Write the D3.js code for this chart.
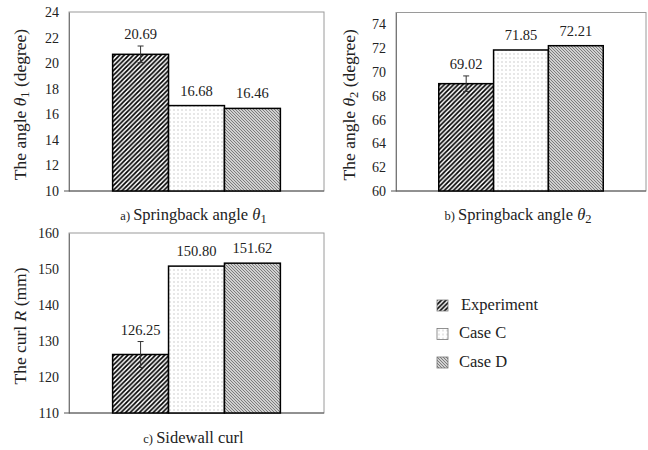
<!DOCTYPE html>
<html>
<head>
<meta charset="utf-8">
<script src="https://cdn.jsdelivr.net/npm/d3@7/dist/d3.min.js"></script>
<style>
  html, body { margin: 0; padding: 0; background: #fff; }
  svg { display: block; }
  svg text { font-family: "Liberation Serif", "DejaVu Serif", serif; }
</style>
</head>
<body>
<svg id="chart" width="648" height="450"></svg>
<script>
// Series shown in every panel
const series = ["Experiment", "Case C", "Case D"];

// a) Springback angle θ1 (degree)
const theta1Values = [20.69, 16.68, 16.46];
const theta1Errors = [0.65, null, null];
const theta1Ticks = [10, 12, 14, 16, 18, 20, 22, 24];

// b) Springback angle θ2 (degree)
const theta2Values = [69.02, 71.85, 72.21];
const theta2Errors = [0.65, null, null];
const theta2Ticks = [60, 62, 64, 66, 68, 70, 72, 74];

// c) Sidewall curl R (mm)
const curlValues = [126.25, 150.80, 151.62];
const curlErrors = [3.6, null, null];
const curlTicks = [110, 120, 130, 140, 150, 160];

const SERIF = "Liberation Serif, DejaVu Serif, serif";

const svg = d3.select("#chart").attr("font-family", SERIF);
const defs = svg.append("defs");

// Fill patterns for the three series
const pExp = defs.append("pattern").attr("id", "pat-exp")
  .attr("patternUnits", "userSpaceOnUse").attr("width", 4.6).attr("height", 4.6);
pExp.append("rect").attr("width", 4.6).attr("height", 4.6).attr("fill", "#fff");
pExp.append("path").attr("d", "M-1.15,1.15 L1.15,-1.15 M0,4.6 L4.6,0 M3.45,5.75 L5.75,3.45")
  .attr("stroke", "#000").attr("stroke-width", 1.7);

const pC = defs.append("pattern").attr("id", "pat-c")
  .attr("patternUnits", "userSpaceOnUse").attr("width", 4).attr("height", 4);
pC.append("rect").attr("width", 4).attr("height", 4).attr("fill", "#fff");
pC.append("rect").attr("x", 1.5).attr("y", 1.5).attr("width", 1).attr("height", 1).attr("fill", "#a0a0a0");

const pD = defs.append("pattern").attr("id", "pat-d")
  .attr("patternUnits", "userSpaceOnUse").attr("width", 3).attr("height", 3);
pD.append("rect").attr("width", 3).attr("height", 3).attr("fill", "#d0d0d0");
pD.append("path").attr("d", "M-0.75,2.25 L0.75,3.75 M0,0 L3,3 M2.25,-0.75 L3.75,0.75")
  .attr("stroke", "#737373").attr("stroke-width", 0.9);

const fills = d3.scaleOrdinal().domain(series).range(["url(#pat-exp)", "url(#pat-c)", "url(#pat-d)"]);

function drawPanel(opt) {
  const { x0, x1, y0, y1, domain, ticks, values, errors, yTitle, caption, capY, titleX } = opt;
  const g = svg.append("g");

  const y = d3.scaleLinear().domain(domain).range([y1, y0]);
  const outer = d3.scaleBand().domain(["g"]).range([x0, x1]).paddingOuter(0.26).paddingInner(0);
  const x = d3.scaleBand().domain(series).range([outer("g"), outer("g") + outer.bandwidth()]);

  // frame
  g.append("rect").attr("x", x0).attr("y", y0).attr("width", x1 - x0).attr("height", y1 - y0)
    .attr("fill", "none").attr("stroke", "#9a9a9a").attr("stroke-width", 1);

  // y axis
  const yAxis = d3.axisLeft(y).tickValues(ticks).tickSize(0).tickPadding(10).tickFormat(d3.format("d"));
  const ya = g.append("g").attr("transform", `translate(${x0},0)`).call(yAxis)
    .attr("font-family", SERIF).attr("font-size", 14);
  ya.select(".domain").attr("stroke", "#777");
  ya.selectAll("text").attr("fill", "#222");

  // x axis baseline
  const xa = g.append("g").attr("transform", `translate(0,${y1})`)
    .call(d3.axisBottom(x).tickSize(0).tickFormat(""));
  xa.select(".domain").attr("stroke", "#555").attr("d", `M${x0 - 5},0H${x1}`);

  const rows = series.map((s, i) => ({ s, v: values[i], e: errors[i] }));

  // bars
  g.selectAll("rect.bar").data(rows).join("rect").attr("class", "bar")
    .attr("x", d => x(d.s)).attr("width", x.bandwidth())
    .attr("y", d => y(d.v)).attr("height", d => y(domain[0]) - y(d.v))
    .attr("fill", d => fills(d.s)).attr("stroke", "#000").attr("stroke-width", 1.5);

  // error bars
  const eb = rows.filter(d => d.e != null);
  const cx = d => x(d.s) + x.bandwidth() / 2;
  g.selectAll("path.err").data(eb).join("path").attr("class", "err")
    .attr("d", d => `M${cx(d) - 3},${y(d.v + d.e)}H${cx(d) + 3}M${cx(d)},${y(d.v + d.e)}V${y(d.v - d.e)}M${cx(d) - 3},${y(d.v - d.e)}H${cx(d) + 3}`)
    .attr("stroke", "#333").attr("stroke-width", 1).attr("fill", "none");

  // value labels
  g.selectAll("text.val").data(rows).join("text").attr("class", "val")
    .attr("x", cx)
    .attr("y", d => (d.e != null ? y(d.v + d.e) - 7 : y(d.v) - 10))
    .attr("text-anchor", "middle").attr("font-size", 14.5).attr("fill", "#222")
    .text(d => d.v.toFixed(2));

  // y title
  const ty = g.append("text")
    .attr("transform", `translate(${titleX},${(y0 + y1) / 2 + 3}) rotate(-90)`)
    .attr("text-anchor", "middle").attr("font-size", 17.5).attr("fill", "#222");
  yTitle.forEach(part => {
    const t = ty.append("tspan").text(part.t);
    if (part.i) t.attr("font-style", "italic");
    if (part.sub) t.attr("font-size", 12.5).attr("baseline-shift", "-25%");
  });

  // caption
  const cap = g.append("text").attr("x", (x0 + x1) / 2 - 3).attr("y", capY)
    .attr("text-anchor", "middle").attr("font-size", 16.5).attr("fill", "#222");
  caption.forEach(part => {
    const t = cap.append("tspan").text(part.t);
    if (part.small) t.attr("font-size", 12.5);
    if (part.i) t.attr("font-style", "italic");
    if (part.sub) t.attr("font-size", 12.5).attr("baseline-shift", "-25%");
  });
}

drawPanel({
  x0: 69, x1: 324, y0: 12, y1: 191, domain: [10, 24], ticks: theta1Ticks,
  values: theta1Values, errors: theta1Errors, titleX: 26,
  yTitle: [{ t: "The angle " }, { t: "θ", i: true }, { t: "1", sub: true }, { t: " (degree)" }],
  caption: [{ t: "a) ", small: true }, { t: "Springback angle " }, { t: "θ", i: true }, { t: "1", sub: true }],
  capY: 220
});

drawPanel({
  x0: 396, x1: 646, y0: 12.5, y1: 191, domain: [60, 75], ticks: theta2Ticks,
  values: theta2Values, errors: theta2Errors, titleX: 355,
  yTitle: [{ t: "The angle " }, { t: "θ", i: true }, { t: "2", sub: true }, { t: " (degree)" }],
  caption: [{ t: "b) ", small: true }, { t: "Springback angle " }, { t: "θ", i: true }, { t: "2", sub: true }],
  capY: 220
});

drawPanel({
  x0: 69, x1: 324, y0: 233, y1: 413, domain: [110, 160], ticks: curlTicks,
  values: curlValues, errors: curlErrors, titleX: 26,
  yTitle: [{ t: "The curl " }, { t: "R", i: true }, { t: " (mm)" }],
  caption: [{ t: "c) ", small: true }, { t: "Sidewall curl" }],
  capY: 443
});

// legend
const legend = svg.append("g");
const ly = d3.scalePoint().domain(series).range([300, 357]);
const lg = legend.selectAll("g").data(series).join("g")
  .attr("transform", d => `translate(437,${ly(d)})`);
lg.append("rect").attr("width", 11).attr("height", 11)
  .attr("fill", d => fills(d)).attr("stroke", "#777").attr("stroke-width", 0.8);
lg.append("text").attr("x", (d, i) => (i === 0 ? 24 : 22)).attr("y", 9.5)
  .attr("font-size", 16.5).attr("fill", "#222").text(d => d);
</script>
</body>
</html>
